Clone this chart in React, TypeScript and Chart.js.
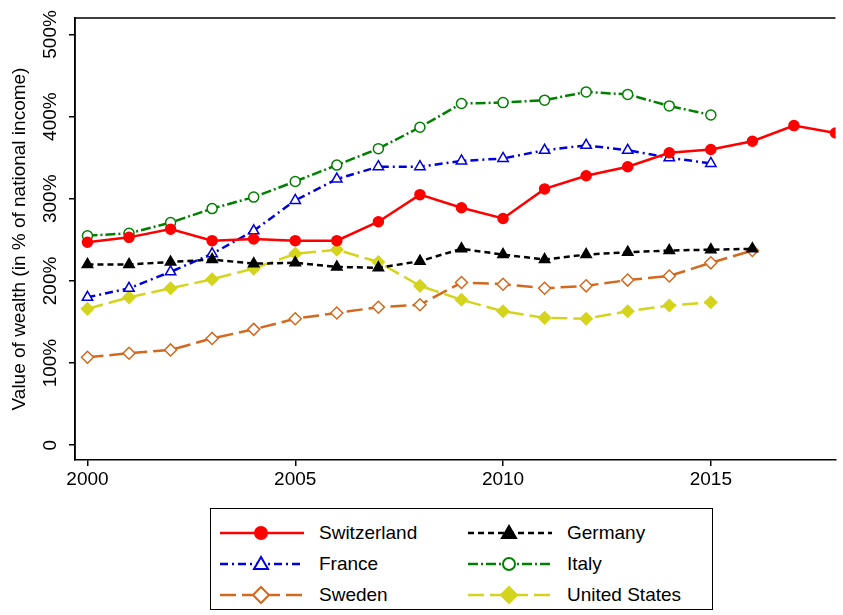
import { useEffect, useRef } from "react"
import { Chart, registerables } from "chart.js"

Chart.register(...registerables)

const years = [2000, 2001, 2002, 2003, 2004, 2005, 2006, 2007, 2008, 2009, 2010, 2011, 2012, 2013, 2014, 2015, 2016, 2017, 2018]
const switzerland = [247, 253, 263, 249, 251, 249, 249, 272, 305, 289, 276, 312, 328, 339, 356, 360, 370, 389, 380]
const germany = [220, 220, 223, 226, 221, 222, 217, 216, 224, 239, 232, 226, 232, 235, 237, 238, 239]
const france = [180, 191, 211, 233, 261, 298, 324, 339, 339, 346, 349, 359, 365, 359, 350, 343]
const italy = [255, 258, 271, 288, 302, 321, 341, 361, 387, 416, 417, 420, 430, 427, 413, 402]
const sweden = [107, 112, 116, 130, 141, 154, 161, 168, 171, 198, 196, 191, 194, 201, 206, 222, 237]
const unitedStates = [166, 180, 191, 202, 215, 233, 238, 223, 194, 177, 163, 155, 154, 163, 170, 174]
const xTicks = [2000, 2005, 2010, 2015]
const yTicks = [0, 100, 200, 300, 400, 500]

const FONT = "'Liberation Sans', Arial, sans-serif"

const series = [
  { label: "Switzerland", data: switzerland, color: "#ff0000", dash: [], style: "circle", fill: true },
  { label: "Germany", data: germany, color: "#000000", dash: [6, 4], style: "triangle", fill: true },
  { label: "France", data: france, color: "#0000dd", dash: [8, 4, 2, 4], style: "triangle", fill: false },
  { label: "Italy", data: italy, color: "#008000", dash: [10, 3, 2, 3], style: "circle", fill: false },
  { label: "Sweden", data: sweden, color: "#d2691e", dash: [16, 6], style: "rectRot", fill: false },
  { label: "United States", data: unitedStates, color: "#d4d41c", dash: [16, 6], style: "rectRot", fill: true },
]

function Marker({ s }: { s: (typeof series)[number] }) {
  const fill = s.fill ? s.color : "white"
  if (s.style === "circle") return <circle cx={42} cy={10} r={6} fill={fill} stroke={s.color} strokeWidth={2} />
  if (s.style === "triangle") return <polygon points="42,3 49,15 35,15" fill={fill} stroke={s.color} strokeWidth={2} />
  return <polygon points="42,2 50,10 42,18 34,10" fill={fill} stroke={s.color} strokeWidth={2} />
}

export default function App() {
  const ref = useRef<HTMLCanvasElement>(null)

  useEffect(() => {
    document.body.style.margin = "0"
    if (!ref.current) return
    const framePlugin = {
      id: "frame",
      afterDraw(chart: any) {
        const { ctx, chartArea, scales } = chart
        ctx.save()
        ctx.strokeStyle = "#000"
        ctx.lineWidth = 1.5
        ctx.beginPath()
        ctx.moveTo(chartArea.left, chartArea.bottom)
        ctx.lineTo(chartArea.left, chartArea.top)
        ctx.lineTo(chartArea.right, chartArea.top)
        ctx.stroke()
        ctx.fillStyle = "#000"
        ctx.font = `19px ${FONT}`
        ctx.textAlign = "center"
        ctx.textBaseline = "middle"
        yTicks.forEach((v) => {
          const y = scales.y.getPixelForValue(v)
          ctx.save()
          ctx.translate(chartArea.left - 24, y)
          ctx.rotate(-Math.PI / 2)
          ctx.fillText(v === 0 ? "0" : v + "%", 0, 0)
          ctx.restore()
        })
        ctx.save()
        ctx.translate(20, (chartArea.top + chartArea.bottom) / 2)
        ctx.rotate(-Math.PI / 2)
        ctx.fillText("Value of wealth (in % of national income)", 0, 0)
        ctx.restore()
        ctx.restore()
      },
    }
    const chart = new Chart(ref.current, {
      type: "line",
      data: {
        datasets: series.map((s) => ({
          label: s.label,
          data: s.data.map((v, i) => ({ x: years[i], y: v })),
          borderColor: s.color,
          backgroundColor: s.fill ? s.color : "#ffffff",
          borderWidth: 2.5,
          borderDash: s.dash,
          pointStyle: s.style as any,
          pointRadius: s.style === "circle" ? 5 : 6,
          pointBorderWidth: 1.5,
          pointBorderColor: s.color,
          pointBackgroundColor: s.fill ? s.color : "#ffffff",
          tension: 0,
        })),
      },
      options: {
        animation: false,
        responsive: false,
        layout: { padding: { top: 18, right: -8 } },
        plugins: { legend: { display: false }, tooltip: { enabled: false } },
        scales: {
          x: {
            type: "linear",
            min: 1999.7,
            max: 2018,
            afterBuildTicks: (s: any) => { s.ticks = xTicks.map((v) => ({ value: v })) },
            afterFit: (s: any) => { s.height = 30 },
            grid: { drawOnChartArea: false, tickLength: 6, color: "#000", lineWidth: 1.5 },
            border: { color: "#000", width: 1.5 },
            ticks: { color: "#000", font: { family: FONT, size: 19 }, padding: 2, maxRotation: 0, callback: (v: any) => String(v) },
          },
          y: {
            min: -18,
            max: 520,
            afterBuildTicks: (s: any) => { s.ticks = yTicks.map((v) => ({ value: v })) },
            afterFit: (s: any) => { s.width = 75 },
            grid: { drawOnChartArea: false, tickLength: 6, color: "#000", lineWidth: 1.5 },
            border: { color: "#000", width: 1.5 },
            ticks: { display: false },
          },
        },
      },
      plugins: [framePlugin],
    })
    return () => chart.destroy()
  }, [])

  return (
    <div style={{ width: 843, height: 615, position: "relative", fontFamily: FONT, background: "#fff", overflow: "hidden" }}>
      <canvas ref={ref} width={843} height={490} style={{ display: "block" }} />
      <div style={{ position: "absolute", left: 210, top: 508, width: 503, height: 102, border: "1.5px solid #000", display: "grid", gridTemplateColumns: "248px 255px", gridAutoRows: "31px", paddingTop: 8, boxSizing: "border-box" }}>
        {series.map((s) => (
          <div key={s.label} style={{ display: "flex", alignItems: "center", paddingLeft: 8 }}>
            <svg width={86} height={20}>
              <line x1={1} y1={10} x2={85} y2={10} stroke={s.color} strokeWidth={2.5} strokeDasharray={s.dash.join(" ")} />
              <Marker s={s} />
            </svg>
            <span style={{ fontSize: 19, marginLeft: 14 }}>{s.label}</span>
          </div>
        ))}
      </div>
    </div>
  )
}
